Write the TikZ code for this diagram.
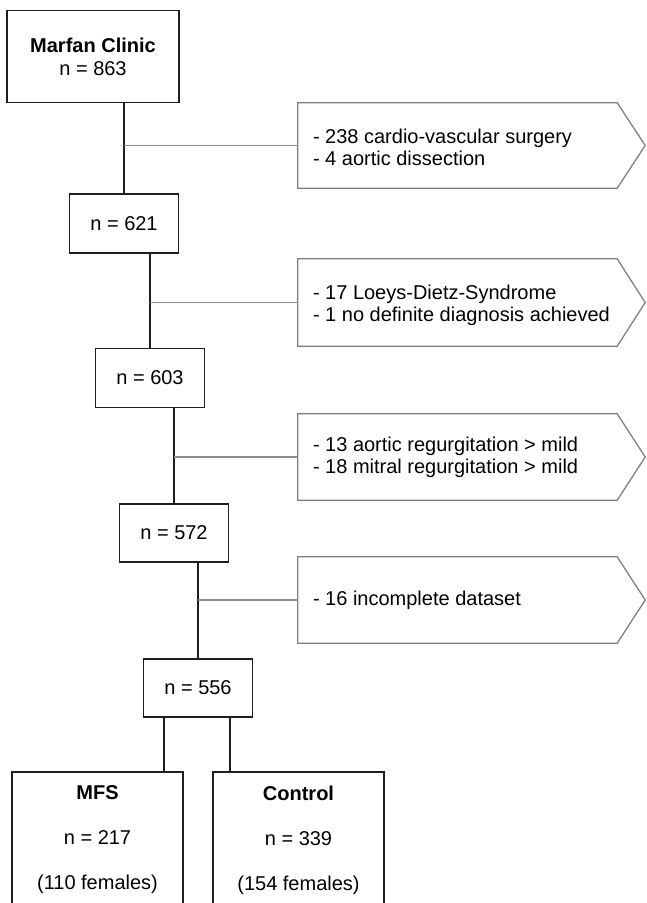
\documentclass[tikz,border=0pt]{standalone}
\usepackage{fontspec}
\setmainfont{Liberation Sans}
\usetikzlibrary{calc}
\begin{document}
\begin{tikzpicture}[x=1pt,y=-1pt,
  box/.style={draw=black!88, line width=1.5pt, fill=white, inner sep=0pt, align=center,
    font=\fontsize{20}{23}\selectfont},
  bigbox/.style={box, font=\fontsize{20}{45}\selectfont},
  pent/.style={draw=none, fill=none, inner sep=0pt, minimum width=319pt},
  pentline/.style={draw=black!50, line width=1.3pt},
  excltext/.style={inner sep=0pt, anchor=west, align=left,
    font=\fontsize{20}{22}\selectfont},
  trunk/.style={draw=black!88, line width=1.8pt},
  branch/.style={draw=black!45, line width=1.4pt}
]
\useasboundingbox (0,0) rectangle (646,903);
\clip (0,0) rectangle (646,903);

% main boxes
\node[box, minimum width=172pt, minimum height=92pt] (mc) at (93,56.5)
  {\textbf{Marfan Clinic}\\n = 863};
\node[box, minimum width=109pt, minimum height=59pt] (n621) at (124,223.5) {n = 621};
\node[box, minimum width=109pt, minimum height=59pt] (n603) at (150,378) {n = 603};
\node[box, minimum width=109pt, minimum height=58pt] (n572) at (174,533) {n = 572};
\node[box, minimum width=109pt, minimum height=58pt] (n556) at (198,688) {n = 556};
\node[bigbox, minimum width=171pt, minimum height=136pt] (mfs) at (97.5,840)
  {\textbf{MFS}\\n = 217\\(110 females)};
\node[bigbox, minimum width=171pt, minimum height=136pt] (ctl) at (298.5,840)
  {\textbf{Control}\\n = 339\\(154 females)};

% exclusion pentagons (outline drawn from the node's corners)
\node[pent, minimum height=85pt] (p1) at (457.5,145.5) {};
\node[pent, minimum height=87pt] (p2) at (457.5,302.5) {};
\node[pent, minimum height=86pt] (p3) at (457.5,457) {};
\node[pent, minimum height=86pt] (p4) at (457.5,600) {};
\foreach \p in {p1,p2,p3,p4}{
  \draw[pentline] (\p.north west) -- (\p.north east)
    -- ($(\p.east)+(28,0)$) -- (\p.south east) -- (\p.south west) -- cycle;
}
\node[excltext] (t1) at ($(p1.west)+(15,2)$)
  {- 238 cardio-vascular surgery\\- 4 aortic dissection};
\node[excltext] (t2) at ($(p2.west)+(15,3)$)
  {- 17 Loeys-Dietz-Syndrome\\- 1 no definite diagnosis achieved};
\node[excltext] (t3) at ($(p3.west)+(15,0)$)
  {- 13 aortic regurgitation > mild\\- 18 mitral regurgitation > mild};
\node[excltext] (t4) at ($(p4.west)+(15,0)$) {- 16 incomplete dataset};

% trunks
\draw[trunk] (mc.south -| n621.north) -- (n621.north);
\draw[trunk] (n621.south -| n603.north) -- (n603.north);
\draw[trunk] (n603.south -| n572.north) -- (n572.north);
\draw[trunk] (n572.south -| n556.north) -- (n556.north);
\coordinate (sl) at ($(n556.south)+(-34,0)$);
\coordinate (sr) at ($(n556.south)+(32,0)$);
\draw[trunk] (sl) -- (sl |- mfs.north);
\draw[trunk] (sr) -- (sr |- ctl.north);

% branches
\draw[branch] (p1.west -| n621.north) -- (p1.west);
\draw[branch] (p2.west -| n603.north) -- (p2.west);
\draw[branch] (p3.west -| n572.north) -- (p3.west);
\draw[branch] (p4.west -| n556.north) -- (p4.west);
\end{tikzpicture}
\end{document}
